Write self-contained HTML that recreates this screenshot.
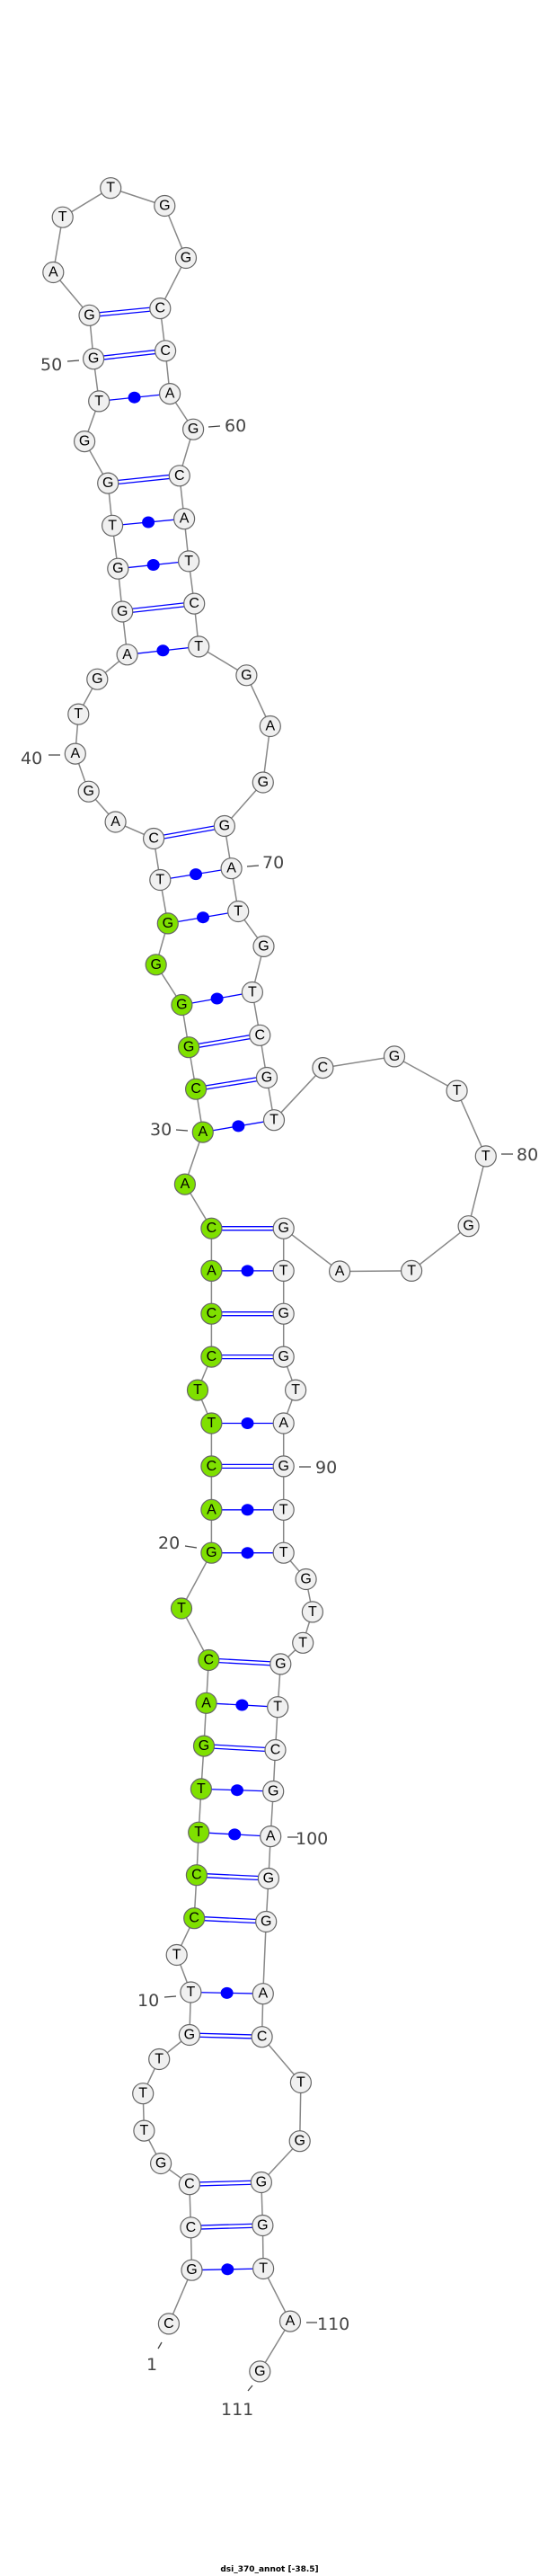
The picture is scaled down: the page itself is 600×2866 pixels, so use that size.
<!DOCTYPE html>
<html><head><meta charset="utf-8"><style>
html,body{margin:0;padding:0;background:#fff}
svg{display:block}
.n circle{stroke:#666;stroke-width:1.2}
.n text{font-family:"Liberation Sans",sans-serif;font-size:16px;text-anchor:middle;dominant-baseline:central;fill:#000}
.lb{font-family:"DejaVu Sans","Liberation Sans",sans-serif;font-size:19px;fill:#444}
</style></head><body>
<svg width="600" height="2866" viewBox="0 0 600 2866" xmlns="http://www.w3.org/2000/svg">
<polyline fill="none" stroke="#888" stroke-width="1.5" points="187.9,2585.4 213.5,2525.7 212.4,2478.3 210.9,2430.2 179.1,2407 160.4,2370.6 159.2,2329.2 177.2,2291 210.9,2264 212.4,2216.5 196.7,2175 216.2,2134.2 218.9,2086.2 221.2,2038.7 223.9,1990.4 227,1942.6 229.6,1894.8 232.3,1847 202,1789.5 235.4,1727.7 235.4,1679.8 235.4,1631.4 235.4,1583.5 220,1546.6 235.4,1509.6 235.4,1461.7 235.4,1413.9 235.4,1366.7 205.9,1317.6 225.8,1259.6 218.1,1211.7 210.1,1165.2 202.4,1118 173.7,1073.3 186.8,1027.4 178.3,979 171.1,933 128.6,914.5 98.7,880.7 83.8,838.6 87.3,794.6 108.3,755.7 141.6,728.3 136.2,680.5 131.3,632.7 125.1,584.8 120.2,537.6 94.1,491.1 110.2,446.4 104.1,399.2 99.5,350.8 59.3,303 69.7,241.7 123.2,209.2 183.3,229 207,287 178.3,343.1 184.1,390.3 189.1,438.1 215.1,477.7 199.8,529.3 205.1,577.2 210.1,624.4 216.2,671.6 221.2,719.4 274.4,751.3 300.8,808 292.8,870.5 249.9,919 257.6,966.2 265.2,1014 293.5,1052.9 280.9,1104 289.3,1151.8 297,1199 305,1246.2 359.4,1188.1 439,1175.4 508.6,1213.6 540.8,1286.4 521.6,1364.2 458.1,1413.9 378.1,1414.5 315.7,1366.7 315.7,1413.9 315.7,1461.7 315.7,1509.6 329.1,1546.6 315.7,1583.5 315.7,1631.4 315.7,1679.8 315.7,1727.7 340.6,1757 347.9,1793.4 337.2,1827.8 312.3,1851.4 309.2,1899.2 306.5,1947 304.2,1993 301.2,2043.1 298.9,2090 296.2,2138 292.8,2218.2 291.6,2266.2 334.9,2317 333.7,2382.2 290.9,2428 292.4,2476 293.1,2524 323,2582.6 289.3,2638.4"/>
<g stroke="#00f" stroke-width="1.3" fill="none">
<path d="M212.4,2476.3L292.4,2474M212.4,2480.3L292.4,2478"/>
<path d="M210.9,2428.2L290.9,2426M210.9,2432.2L290.9,2430"/>
<path d="M210.9,2262L291.6,2264.2M210.9,2266L291.6,2268.2"/>
<path d="M216.2,2132.2L296.2,2136M216.2,2136.2L296.2,2140"/>
<path d="M218.9,2084.2L298.9,2088M218.9,2088.2L298.9,2092"/>
<path d="M227,1940.6L306.5,1945M227,1944.6L306.5,1949"/>
<path d="M232.3,1845L312.3,1849.4M232.3,1849L312.3,1853.4"/>
<path d="M235.4,1629.4L315.7,1629.4M235.4,1633.4L315.7,1633.4"/>
<path d="M235.4,1507.6L315.7,1507.6M235.4,1511.6L315.7,1511.6"/>
<path d="M235.4,1459.7L315.7,1459.7M235.4,1463.7L315.7,1463.7"/>
<path d="M235.4,1364.7L315.7,1364.7M235.4,1368.7L315.7,1368.7"/>
<path d="M218.1,1209.7L297,1197M218.1,1213.7L297,1201"/>
<path d="M210.1,1163.2L289.3,1149.8M210.1,1167.2L289.3,1153.8"/>
<path d="M171.1,931L249.9,917M171.1,935L249.9,921"/>
<path d="M136.2,678.5L216.2,669.6M136.2,682.5L216.2,673.6"/>
<path d="M120.2,535.6L199.8,527.3M120.2,539.6L199.8,531.3"/>
<path d="M104.1,397.2L184.1,388.3M104.1,401.2L184.1,392.3"/>
<path d="M99.5,348.8L178.3,341.1M99.5,352.8L178.3,345.1"/>
<path d="M213.5,2525.7L293.1,2524M212.4,2216.5L292.8,2218.2M221.2,2038.7L301.2,2043.1M223.9,1990.4L304.2,1993M229.6,1894.8L309.2,1899.2M235.4,1727.7L315.7,1727.7M235.4,1679.8L315.7,1679.8M235.4,1583.5L315.7,1583.5M235.4,1413.9L315.7,1413.9M225.8,1259.6L305,1246.2M202.4,1118L280.9,1104M186.8,1027.4L265.2,1014M178.3,979L257.6,966.2M141.6,728.3L221.2,719.4M131.3,632.7L210.1,624.4M125.1,584.8L205.1,577.2M110.2,446.4L189.1,438.1"/>
</g>
<g fill="#00f">
<ellipse cx="253.3" cy="2524.8" rx="7" ry="6.5"/><ellipse cx="252.6" cy="2217.4" rx="7" ry="6.5"/><ellipse cx="261.2" cy="2040.9" rx="7" ry="6.5"/><ellipse cx="264" cy="1991.7" rx="7" ry="6.5"/><ellipse cx="269.4" cy="1897" rx="7" ry="6.5"/><ellipse cx="275.5" cy="1727.7" rx="7" ry="6.5"/><ellipse cx="275.5" cy="1679.8" rx="7" ry="6.5"/><ellipse cx="275.5" cy="1583.5" rx="7" ry="6.5"/><ellipse cx="275.5" cy="1413.9" rx="7" ry="6.5"/><ellipse cx="265.4" cy="1252.9" rx="7" ry="6.5"/><ellipse cx="241.6" cy="1111" rx="7" ry="6.5"/><ellipse cx="226" cy="1020.7" rx="7" ry="6.5"/><ellipse cx="218" cy="972.6" rx="7" ry="6.5"/><ellipse cx="181.4" cy="723.8" rx="7" ry="6.5"/><ellipse cx="170.7" cy="628.5" rx="7" ry="6.5"/><ellipse cx="165.1" cy="581" rx="7" ry="6.5"/><ellipse cx="149.6" cy="442.2" rx="7" ry="6.5"/>
</g>
<g class="n" fill="#f0f0f0">
<circle cx="187.9" cy="2585.4" r="11.5"/><text x="187.9" y="2585.4">C</text>
<circle cx="213.5" cy="2525.7" r="11.5"/><text x="213.5" y="2525.7">G</text>
<circle cx="212.4" cy="2478.3" r="11.5"/><text x="212.4" y="2478.3">C</text>
<circle cx="210.9" cy="2430.2" r="11.5"/><text x="210.9" y="2430.2">C</text>
<circle cx="179.1" cy="2407" r="11.5"/><text x="179.1" y="2407">G</text>
<circle cx="160.4" cy="2370.6" r="11.5"/><text x="160.4" y="2370.6">T</text>
<circle cx="159.2" cy="2329.2" r="11.5"/><text x="159.2" y="2329.2">T</text>
<circle cx="177.2" cy="2291" r="11.5"/><text x="177.2" y="2291">T</text>
<circle cx="210.9" cy="2264" r="11.5"/><text x="210.9" y="2264">G</text>
<circle cx="212.4" cy="2216.5" r="11.5"/><text x="212.4" y="2216.5">T</text>
<circle cx="196.7" cy="2175" r="11.5"/><text x="196.7" y="2175">T</text>
<circle cx="178.3" cy="979" r="11.5"/><text x="178.3" y="979">T</text>
<circle cx="171.1" cy="933" r="11.5"/><text x="171.1" y="933">C</text>
<circle cx="128.6" cy="914.5" r="11.5"/><text x="128.6" y="914.5">A</text>
<circle cx="98.7" cy="880.7" r="11.5"/><text x="98.7" y="880.7">G</text>
<circle cx="83.8" cy="838.6" r="11.5"/><text x="83.8" y="838.6">A</text>
<circle cx="87.3" cy="794.6" r="11.5"/><text x="87.3" y="794.6">T</text>
<circle cx="108.3" cy="755.7" r="11.5"/><text x="108.3" y="755.7">G</text>
<circle cx="141.6" cy="728.3" r="11.5"/><text x="141.6" y="728.3">A</text>
<circle cx="136.2" cy="680.5" r="11.5"/><text x="136.2" y="680.5">G</text>
<circle cx="131.3" cy="632.7" r="11.5"/><text x="131.3" y="632.7">G</text>
<circle cx="125.1" cy="584.8" r="11.5"/><text x="125.1" y="584.8">T</text>
<circle cx="120.2" cy="537.6" r="11.5"/><text x="120.2" y="537.6">G</text>
<circle cx="94.1" cy="491.1" r="11.5"/><text x="94.1" y="491.1">G</text>
<circle cx="110.2" cy="446.4" r="11.5"/><text x="110.2" y="446.4">T</text>
<circle cx="104.1" cy="399.2" r="11.5"/><text x="104.1" y="399.2">G</text>
<circle cx="99.5" cy="350.8" r="11.5"/><text x="99.5" y="350.8">G</text>
<circle cx="59.3" cy="303" r="11.5"/><text x="59.3" y="303">A</text>
<circle cx="69.7" cy="241.7" r="11.5"/><text x="69.7" y="241.7">T</text>
<circle cx="123.2" cy="209.2" r="11.5"/><text x="123.2" y="209.2">T</text>
<circle cx="183.3" cy="229" r="11.5"/><text x="183.3" y="229">G</text>
<circle cx="207" cy="287" r="11.5"/><text x="207" y="287">G</text>
<circle cx="178.3" cy="343.1" r="11.5"/><text x="178.3" y="343.1">C</text>
<circle cx="184.1" cy="390.3" r="11.5"/><text x="184.1" y="390.3">C</text>
<circle cx="189.1" cy="438.1" r="11.5"/><text x="189.1" y="438.1">A</text>
<circle cx="215.1" cy="477.7" r="11.5"/><text x="215.1" y="477.7">G</text>
<circle cx="199.8" cy="529.3" r="11.5"/><text x="199.8" y="529.3">C</text>
<circle cx="205.1" cy="577.2" r="11.5"/><text x="205.1" y="577.2">A</text>
<circle cx="210.1" cy="624.4" r="11.5"/><text x="210.1" y="624.4">T</text>
<circle cx="216.2" cy="671.6" r="11.5"/><text x="216.2" y="671.6">C</text>
<circle cx="221.2" cy="719.4" r="11.5"/><text x="221.2" y="719.4">T</text>
<circle cx="274.4" cy="751.3" r="11.5"/><text x="274.4" y="751.3">G</text>
<circle cx="300.8" cy="808" r="11.5"/><text x="300.8" y="808">A</text>
<circle cx="292.8" cy="870.5" r="11.5"/><text x="292.8" y="870.5">G</text>
<circle cx="249.9" cy="919" r="11.5"/><text x="249.9" y="919">G</text>
<circle cx="257.6" cy="966.2" r="11.5"/><text x="257.6" y="966.2">A</text>
<circle cx="265.2" cy="1014" r="11.5"/><text x="265.2" y="1014">T</text>
<circle cx="293.5" cy="1052.9" r="11.5"/><text x="293.5" y="1052.9">G</text>
<circle cx="280.9" cy="1104" r="11.5"/><text x="280.9" y="1104">T</text>
<circle cx="289.3" cy="1151.8" r="11.5"/><text x="289.3" y="1151.8">C</text>
<circle cx="297" cy="1199" r="11.5"/><text x="297" y="1199">G</text>
<circle cx="305" cy="1246.2" r="11.5"/><text x="305" y="1246.2">T</text>
<circle cx="359.4" cy="1188.1" r="11.5"/><text x="359.4" y="1188.1">C</text>
<circle cx="439" cy="1175.4" r="11.5"/><text x="439" y="1175.4">G</text>
<circle cx="508.6" cy="1213.6" r="11.5"/><text x="508.6" y="1213.6">T</text>
<circle cx="540.8" cy="1286.4" r="11.5"/><text x="540.8" y="1286.4">T</text>
<circle cx="521.6" cy="1364.2" r="11.5"/><text x="521.6" y="1364.2">G</text>
<circle cx="458.1" cy="1413.9" r="11.5"/><text x="458.1" y="1413.9">T</text>
<circle cx="378.1" cy="1414.5" r="11.5"/><text x="378.1" y="1414.5">A</text>
<circle cx="315.7" cy="1366.7" r="11.5"/><text x="315.7" y="1366.7">G</text>
<circle cx="315.7" cy="1413.9" r="11.5"/><text x="315.7" y="1413.9">T</text>
<circle cx="315.7" cy="1461.7" r="11.5"/><text x="315.7" y="1461.7">G</text>
<circle cx="315.7" cy="1509.6" r="11.5"/><text x="315.7" y="1509.6">G</text>
<circle cx="329.1" cy="1546.6" r="11.5"/><text x="329.1" y="1546.6">T</text>
<circle cx="315.7" cy="1583.5" r="11.5"/><text x="315.7" y="1583.5">A</text>
<circle cx="315.7" cy="1631.4" r="11.5"/><text x="315.7" y="1631.4">G</text>
<circle cx="315.7" cy="1679.8" r="11.5"/><text x="315.7" y="1679.8">T</text>
<circle cx="315.7" cy="1727.7" r="11.5"/><text x="315.7" y="1727.7">T</text>
<circle cx="340.6" cy="1757" r="11.5"/><text x="340.6" y="1757">G</text>
<circle cx="347.9" cy="1793.4" r="11.5"/><text x="347.9" y="1793.4">T</text>
<circle cx="337.2" cy="1827.8" r="11.5"/><text x="337.2" y="1827.8">T</text>
<circle cx="312.3" cy="1851.4" r="11.5"/><text x="312.3" y="1851.4">G</text>
<circle cx="309.2" cy="1899.2" r="11.5"/><text x="309.2" y="1899.2">T</text>
<circle cx="306.5" cy="1947" r="11.5"/><text x="306.5" y="1947">C</text>
<circle cx="304.2" cy="1993" r="11.5"/><text x="304.2" y="1993">G</text>
<circle cx="301.2" cy="2043.1" r="11.5"/><text x="301.2" y="2043.1">A</text>
<circle cx="298.9" cy="2090" r="11.5"/><text x="298.9" y="2090">G</text>
<circle cx="296.2" cy="2138" r="11.5"/><text x="296.2" y="2138">G</text>
<circle cx="292.8" cy="2218.2" r="11.5"/><text x="292.8" y="2218.2">A</text>
<circle cx="291.6" cy="2266.2" r="11.5"/><text x="291.6" y="2266.2">C</text>
<circle cx="334.9" cy="2317" r="11.5"/><text x="334.9" y="2317">T</text>
<circle cx="333.7" cy="2382.2" r="11.5"/><text x="333.7" y="2382.2">G</text>
<circle cx="290.9" cy="2428" r="11.5"/><text x="290.9" y="2428">G</text>
<circle cx="292.4" cy="2476" r="11.5"/><text x="292.4" y="2476">G</text>
<circle cx="293.1" cy="2524" r="11.5"/><text x="293.1" y="2524">T</text>
<circle cx="323" cy="2582.6" r="11.5"/><text x="323" y="2582.6">A</text>
<circle cx="289.3" cy="2638.4" r="11.5"/><text x="289.3" y="2638.4">G</text>
</g>
<g class="n" fill="#7fe000">
<circle cx="216.2" cy="2134.2" r="11.5"/><text x="216.2" y="2134.2">C</text>
<circle cx="218.9" cy="2086.2" r="11.5"/><text x="218.9" y="2086.2">C</text>
<circle cx="221.2" cy="2038.7" r="11.5"/><text x="221.2" y="2038.7">T</text>
<circle cx="223.9" cy="1990.4" r="11.5"/><text x="223.9" y="1990.4">T</text>
<circle cx="227" cy="1942.6" r="11.5"/><text x="227" y="1942.6">G</text>
<circle cx="229.6" cy="1894.8" r="11.5"/><text x="229.6" y="1894.8">A</text>
<circle cx="232.3" cy="1847" r="11.5"/><text x="232.3" y="1847">C</text>
<circle cx="202" cy="1789.5" r="11.5"/><text x="202" y="1789.5">T</text>
<circle cx="235.4" cy="1727.7" r="11.5"/><text x="235.4" y="1727.7">G</text>
<circle cx="235.4" cy="1679.8" r="11.5"/><text x="235.4" y="1679.8">A</text>
<circle cx="235.4" cy="1631.4" r="11.5"/><text x="235.4" y="1631.4">C</text>
<circle cx="235.4" cy="1583.5" r="11.5"/><text x="235.4" y="1583.5">T</text>
<circle cx="220" cy="1546.6" r="11.5"/><text x="220" y="1546.6">T</text>
<circle cx="235.4" cy="1509.6" r="11.5"/><text x="235.4" y="1509.6">C</text>
<circle cx="235.4" cy="1461.7" r="11.5"/><text x="235.4" y="1461.7">C</text>
<circle cx="235.4" cy="1413.9" r="11.5"/><text x="235.4" y="1413.9">A</text>
<circle cx="235.4" cy="1366.7" r="11.5"/><text x="235.4" y="1366.7">C</text>
<circle cx="205.9" cy="1317.6" r="11.5"/><text x="205.9" y="1317.6">A</text>
<circle cx="225.8" cy="1259.6" r="11.5"/><text x="225.8" y="1259.6">A</text>
<circle cx="218.1" cy="1211.7" r="11.5"/><text x="218.1" y="1211.7">C</text>
<circle cx="210.1" cy="1165.2" r="11.5"/><text x="210.1" y="1165.2">G</text>
<circle cx="202.4" cy="1118" r="11.5"/><text x="202.4" y="1118">G</text>
<circle cx="173.7" cy="1073.3" r="11.5"/><text x="173.7" y="1073.3">G</text>
<circle cx="186.8" cy="1027.4" r="11.5"/><text x="186.8" y="1027.4">G</text>
</g>
<g stroke="#444" stroke-width="1.3">
<path d="M75,402L88,401M232,475L245,474M54,840L67,840M275,964L288,963M196,1257L209,1258M558,1284L571,1284M333,1632L346,1632M206,1720L219,1722M320,2044L332,2044M183,2222L196,2221M180,2606L176,2613M341,2584L353,2584M281,2654L276,2660"/>
</g>
<g class="lb">
<text x="45" y="412">50</text>
<text x="250" y="480">60</text>
<text x="23" y="850">40</text>
<text x="292" y="966">70</text>
<text x="167" y="1263">30</text>
<text x="575" y="1291">80</text>
<text x="351" y="1639">90</text>
<text x="176" y="1723">20</text>
<text x="329" y="2052">100</text>
<text x="153" y="2232">10</text>
<text x="163" y="2637">1</text>
<text x="353" y="2592">110</text>
<text x="246" y="2687">111</text>
</g>
<text x="300" y="2861" text-anchor="middle" font-family="DejaVu Sans,Liberation Sans,sans-serif" font-size="9" font-weight="bold">dsi_370_annot [-38.5]</text>
</svg>
</body></html>
